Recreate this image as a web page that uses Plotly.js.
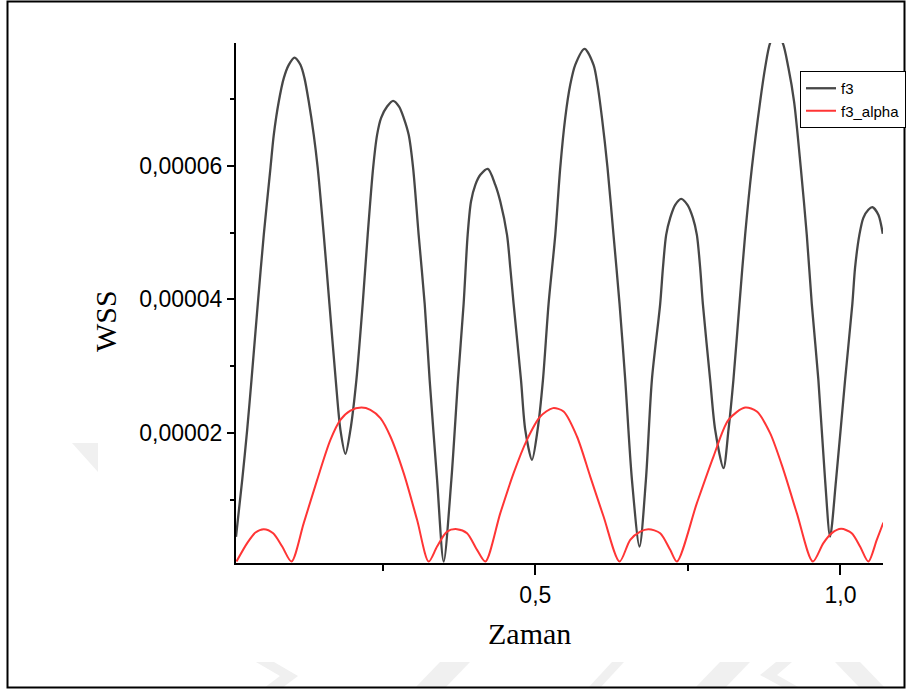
<!DOCTYPE html>
<html>
<head>
<meta charset="utf-8">
<script src="https://cdn.plot.ly/plotly-3.0.1.min.js"></script>
<style>
html,body{margin:0;padding:0;background:#ffffff;}
#chart{width:906px;height:690px;}
</style>
</head>
<body>
<div id="chart"></div>
<script>
// ---- data ----
const seriesNames = ['f3', 'f3_alpha'];

// f3 (black)
const f3Time = [
  0.0095,0.0197,0.0278,0.0349,0.0452,0.0550,0.0660,0.0714,0.0796,0.0878,0.0960,
  0.1053,0.1151,0.1217,0.1287,0.1369,0.1434,0.1533,0.1626,0.1729,0.1806,0.1888,
  0.1970,0.2068,0.2171,0.2253,0.2342,0.2407,0.2473,0.2571,0.2669,0.2767,0.2843,
  0.2925,0.2997,0.3088,0.3187,0.3268,0.3390,0.3498,
  0.3624,0.3733,0.3825,0.3891,0.3946,0.4017,0.4099,0.4222,0.4344,0.4426,0.4536,
  0.4590,0.4644,0.4765,0.4835,0.4945,
  0.5037,0.5125,0.5217,0.5327,0.5408,0.5490,0.5572,0.5654,0.5807,0.5954,0.6019,
  0.6092,0.6183,0.6281,0.6380,0.6473,0.6583,0.6707,
  0.6812,0.6910,0.7046,0.7091,0.7144,0.7210,0.7292,0.7390,0.7493,0.7582,0.7647,
  0.7701,0.7745,0.7865,0.7947,0.8083,
  0.8165,0.8246,0.8345,0.8438,0.8548,0.8684,0.8765,0.8847,0.8946,0.9055,0.9147,
  0.9240,0.9350,0.9448,0.9530,0.9638,0.9748,0.9830,
  0.9928,1.0076,1.0195,1.0239,1.0310,1.0375,1.0457,1.0523,1.0621,1.0693
];
const f3Values = [
  0.442e-5,1.296e-5,2.045e-5,2.794e-5,3.933e-5,4.966e-5,5.970e-5,6.464e-5,6.963e-5,7.314e-5,7.513e-5,
  7.622e-5,7.513e-5,7.314e-5,6.963e-5,6.464e-5,5.970e-5,4.966e-5,3.933e-5,2.794e-5,2.045e-5,1.685e-5,
  2.045e-5,2.794e-5,3.933e-5,4.966e-5,5.970e-5,6.464e-5,6.719e-5,6.888e-5,6.974e-5,6.888e-5,6.719e-5,
  6.464e-5,5.970e-5,4.966e-5,3.933e-5,2.794e-5,1.296e-5,0.072e-5,
  1.296e-5,2.794e-5,3.933e-5,4.966e-5,5.465e-5,5.715e-5,5.865e-5,5.955e-5,5.715e-5,5.465e-5,4.966e-5,
  4.472e-5,3.933e-5,2.794e-5,2.045e-5,1.596e-5,
  2.045e-5,2.794e-5,3.933e-5,4.966e-5,5.970e-5,6.719e-5,7.213e-5,7.513e-5,7.753e-5,7.513e-5,7.213e-5,
  6.719e-5,5.970e-5,4.966e-5,3.933e-5,2.794e-5,1.296e-5,0.297e-5,
  1.296e-5,2.794e-5,3.933e-5,4.472e-5,4.966e-5,5.221e-5,5.416e-5,5.506e-5,5.416e-5,5.221e-5,4.966e-5,
  4.472e-5,3.933e-5,2.794e-5,2.045e-5,1.471e-5,
  2.045e-5,2.794e-5,3.933e-5,4.966e-5,5.970e-5,6.963e-5,7.468e-5,7.838e-5,7.993e-5,7.838e-5,7.468e-5,
  6.963e-5,5.970e-5,4.966e-5,3.933e-5,2.794e-5,1.296e-5,0.446e-5,
  1.296e-5,2.794e-5,3.933e-5,4.472e-5,4.966e-5,5.221e-5,5.341e-5,5.381e-5,5.266e-5,4.981e-5
];

// f3_alpha (red)
const alphaTime = [
  0.0103,0.0278,0.0414,0.0550,0.0704,0.0852,0.1004,
  0.1205,0.1425,0.1642,0.1806,0.1970,0.2150,0.2297,0.2461,0.2625,0.2843,0.3062,0.3252,
  0.3390,0.3553,0.3717,0.3881,0.4045,0.4181,
  0.4426,0.4644,0.4863,0.5081,0.5289,0.5463,0.5682,0.5900,0.6118,0.6380,
  0.6555,0.6719,0.6855,0.7046,0.7210,0.7320,
  0.7647,0.7919,0.8165,0.8438,0.8630,0.8847,0.9065,0.9285,0.9547,
  0.9720,0.9858,1.0010,1.0185,1.0321,1.0457,
  1.0595,1.0703
];
const alphaValues = [
  0.072e-5,0.348e-5,0.506e-5,0.557e-5,0.497e-5,0.297e-5,0.072e-5,
  0.647e-5,1.296e-5,1.895e-5,2.195e-5,2.334e-5,2.379e-5,2.345e-5,2.220e-5,1.945e-5,1.396e-5,0.697e-5,0.072e-5,
  0.297e-5,0.521e-5,0.557e-5,0.497e-5,0.247e-5,0.072e-5,
  0.797e-5,1.396e-5,1.895e-5,2.244e-5,2.370e-5,2.319e-5,1.945e-5,1.345e-5,0.746e-5,0.072e-5,
  0.397e-5,0.521e-5,0.557e-5,0.497e-5,0.247e-5,0.072e-5,
  0.947e-5,1.645e-5,2.195e-5,2.379e-5,2.319e-5,1.996e-5,1.446e-5,0.797e-5,0.072e-5,
  0.348e-5,0.497e-5,0.562e-5,0.497e-5,0.297e-5,0.072e-5,
  0.397e-5,0.656e-5
];

// axis ticks
const xTickVals = [0.5, 1.0];
const xTickText = ['0,5', '1,0'];
const xMinorVals = [0.25, 0.75];
const yTickVals = [0.00002, 0.00004, 0.00006];
const yTickText = ['0,00002', '0,00004', '0,00006'];
const yMinorVals = [0.00001, 0.00003, 0.00005, 0.00007];
const xTitle = 'Zaman';
const yTitle = 'WSS';

// ---- layout helpers (pixel -> paper) ----
const L = 236, R = 883, T = 43, B = 563;
const px = v => (v - L) / (R - L);
const py = v => (B - v) / (B - T);
const poly = pts => 'M' + pts.map(p => px(p[0]) + ',' + py(p[1])).join(' L') + ' Z';

const wm = '#f0f0f0';
const watermark = [
  [[72,443],[98,443],[98,472]],
  [[256,662],[274,662],[298,676],[282,688],[264,688],[280,676]],
  [[440,662],[470,662],[445,688],[415,688]],
  [[612,662],[624,662],[600,688],[588,688]],
  [[720,662],[750,662],[725,688],[695,688]],
  [[776,662],[792,662],[777,675],[800,688],[784,688],[760,675]],
  [[835,662],[860,662],[885,688],[860,688]]
].map(pts => ({type:'path', xref:'paper', yref:'paper', path: poly(pts),
  fillcolor: wm, line:{width:0}, layer:'below'}));

const traces = [
  {x: f3Time, y: f3Values, name: seriesNames[0], type: 'scatter', mode: 'lines',
   line: {color: '#474747', width: 2.3, shape: 'spline', smoothing: 0.8}},
  {x: alphaTime, y: alphaValues, name: seriesNames[1], type: 'scatter', mode: 'lines',
   line: {color: '#ff3535', width: 2, shape: 'spline', smoothing: 0.8}}
];

const tickFont = {family: 'Liberation Sans, Arial, sans-serif', size: 23, color: '#000'};
const titleFont = {family: 'Liberation Serif, Times New Roman, serif', size: 30, color: '#000'};

const layout = {
  width: 906, height: 690,
  margin: {l: L, r: 906 - R, t: T, b: 690 - B, pad: 0, autoexpand: false},
  paper_bgcolor: '#ffffff', plot_bgcolor: '#ffffff',
  showlegend: true,
  legend: {x: px(800), y: py(71), xanchor: 'left', yanchor: 'top',
    bgcolor: '#ffffff', bordercolor: '#000', borderwidth: 1,
    font: {family: 'Liberation Sans, Arial, sans-serif', size: 15, color: '#000'},
    tracegroupgap: 0, itemwidth: 30},
  xaxis: {range: [0.0095, 1.0697], showgrid: false, zeroline: false,
    showline: true, linecolor: '#000', linewidth: 2,
    tickmode: 'array', tickvals: xTickVals, ticktext: xTickText,
    ticks: 'outside', ticklen: 10, tickwidth: 2, tickcolor: '#000',
    minor: {tickmode: 'array', tickvals: xMinorVals, ticks: 'outside', ticklen: 6, tickwidth: 2, tickcolor: '#000', showgrid: false},
    tickfont: tickFont},
  yaxis: {range: [0.5e-6, 7.84e-5], showgrid: false, zeroline: false,
    showline: true, linecolor: '#000', linewidth: 2,
    tickmode: 'array', tickvals: yTickVals, ticktext: yTickText,
    ticks: 'outside', ticklen: 7, tickwidth: 2, tickcolor: '#000',
    minor: {tickmode: 'array', tickvals: yMinorVals, ticks: 'outside', ticklen: 4, tickwidth: 2, tickcolor: '#000', showgrid: false},
    tickfont: tickFont},
  annotations: [
    {text: yTitle, xref: 'paper', yref: 'paper', x: px(105), y: py(321),
     xanchor: 'center', yanchor: 'middle', textangle: -90, showarrow: false, font: titleFont},
    {text: xTitle, xref: 'paper', yref: 'paper', x: px(529), y: py(633),
     xanchor: 'center', yanchor: 'middle', showarrow: false, font: titleFont}
  ],
  shapes: watermark.concat([
    {type: 'rect', xref: 'paper', yref: 'paper',
     x0: px(7.5), x1: px(904.5), y0: py(687.5), y1: py(1.5),
     line: {color: '#000', width: 2}, fillcolor: 'rgba(0,0,0,0)', layer: 'above'}
  ])
};

Plotly.newPlot('chart', traces, layout, {staticPlot: true, displayModeBar: false});
</script>
</body>
</html>
